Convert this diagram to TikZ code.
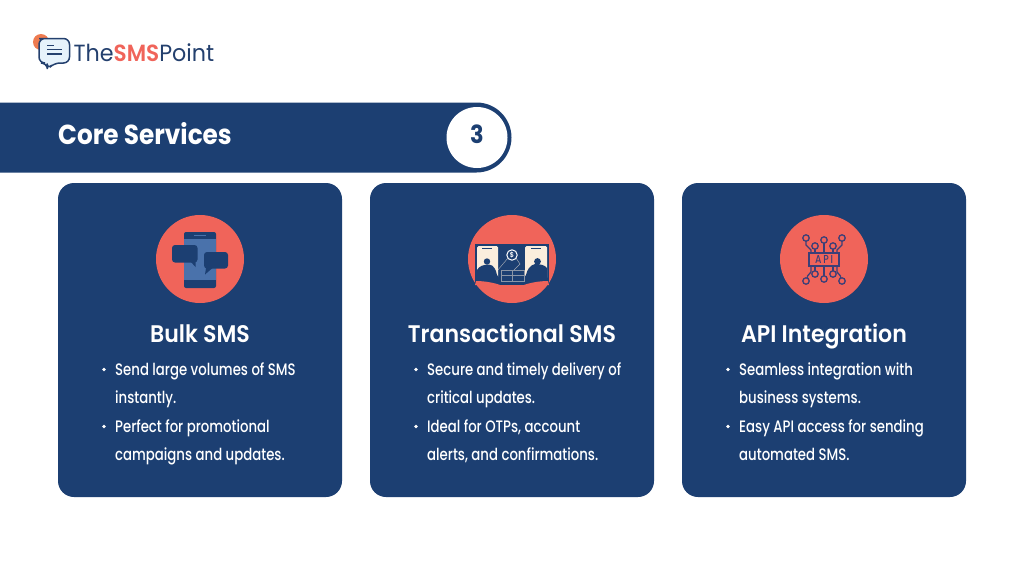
\documentclass[tikz,border=0pt]{standalone}
\usepackage{fontspec}
\setmainfont{Poppins}[FakeStretch=0.86]
\newfontfamily\headf{Poppins Bold}[FakeStretch=0.9]
\newfontfamily\titlef{Poppins SemiBold}[FakeStretch=0.92]
\newfontfamily\bodyf{Poppins Medium}[FakeStretch=0.8]
\newfontfamily\logof{Poppins}[FakeStretch=0.95]
\definecolor{navy}{HTML}{1C3F72}
\definecolor{coral}{HTML}{F0645A}
\definecolor{screenblue}{HTML}{4A72AB}
\definecolor{cream}{HTML}{FBEEDD}
\definecolor{apiink}{HTML}{3B3F78}
\definecolor{logoink}{HTML}{24406E}
\definecolor{logoorange}{HTML}{EE7B50}
\definecolor{bubblefill}{HTML}{E6F2FB}
\tikzset{
  card/.style={fill=navy,rounded corners=16pt},
  title/.style={text=white,font=\titlef\fontsize{24}{26}\selectfont,anchor=base,inner sep=0pt},
  item/.style={text=white,font=\bodyf\fontsize{16.6}{18}\selectfont,anchor=base west,inner sep=0pt},
  dot/.style={circle,fill=white,minimum size=3.6pt,inner sep=0pt},
  apic/.style={draw=apiink,line width=1.3pt},
  apil/.style={draw=apiink,line width=1.3pt,fill=none},
}
\begin{document}
\begin{tikzpicture}[x=1pt,y=-1pt]
\useasboundingbox (0,0) rectangle (1024,576);
\fill[white] (0,0) rectangle (1024,576);
% logo
\fill[logoorange] (41,42) circle (8);
\draw[logoink,line width=1.5pt,fill=bubblefill,rounded corners=6pt]
  (45,38.5) -- (69.5,38.5) -- (69.5,63) -- (54,63) -- (47.5,69.5) -- (47,63) -- (39,63) -- (39,38.5) -- cycle;
\draw[logoink,line width=1.2pt] (47,45.5) -- (54,45.5) (47,49.5) -- (62,49.5) (47,54) -- (62,54);
\node[anchor=base west,inner sep=0pt,font=\logof\fontsize{23.4}{24}\selectfont] (logo) at (73.5,61.5)
  {\textcolor{logoink}{The}\textcolor{coral}{\titlef SMS}\textcolor{logoink}{Point}};
% header band
\fill[navy] (0,102.5) -- (476.5,102.5) arc[start angle=-90,end angle=90,radius=35] -- (0,172.5) -- cycle;
\node[circle,fill=white,minimum size=61pt,inner sep=0pt] (badge) at (477,137.5) {};
\node[anchor=base,inner sep=0pt,text=navy,font=\headf\fontsize{25}{26}\selectfont] (num) at (477,143.5) {3};
\node[anchor=base west,inner sep=0pt,text=white,font=\headf\fontsize{27.5}{29}\selectfont] (head) at (58,144) {Core Services};
% cards
\fill[card] (58,183) rectangle (342,497);
\fill[card] (370,183) rectangle (654,497);
\fill[card] (682,183) rectangle (966,497);
% icon circles
\fill[coral] (200,259) circle (44);
\fill[coral] (512,259) circle (44);
\fill[coral] (824,259) circle (44);
% phone icon
\fill[navy,rounded corners=2pt] (184,232) rectangle (216,288);
\fill[screenblue] (184,238.5) rectangle (216,280);
\draw[screenblue,line width=1.2pt] (194,235.5) -- (206,235.5);
\fill[navy,rounded corners=3pt] (172,245) rectangle (197.5,262.5);
\fill[navy] (191,262) -- (195.5,267) -- (195.5,262) -- cycle;
\fill[navy,rounded corners=3pt] (204,252) rectangle (228,268.5);
\fill[navy] (206,268) -- (205,274.5) -- (212.5,268) -- cycle;
% transaction icon
\fill[navy] (475,244) -- (549,244) -- (549,285) -- (475,285) -- cycle;
\fill[cream,rounded corners=1.5pt] (477,246) rectangle (498,279);
\fill[cream,rounded corners=1.5pt] (525,246) rectangle (547,279);
\draw[navy,line width=1pt] (482,248.5) -- (492,248.5) (531,248.5) -- (541,248.5);
\fill[navy] (487,261.5) circle (3.2);
\fill[navy] (477,282) -- (477,270) .. controls (479,266) and (484,264.5) .. (489,264.5) .. controls (494,265) and (496,270) .. (497,275) -- (503,283) -- cycle;
\fill[navy] (537.5,261.5) circle (3.4);
\fill[navy] (547,282) -- (547,268) .. controls (545,265) and (540,264) .. (535,264) .. controls (530,265) and (527,270) .. (526,275) -- (520,283) -- cycle;
\fill[coral] (475,285) -- (476,281) .. controls (485,281) and (495,283) .. (500,285) -- cycle;
\fill[coral] (549,285) -- (548,281) .. controls (539,281) and (529,283) .. (524,285) -- cycle;
\draw[cream,opacity=.5,line width=.45pt] (501,270) rectangle (524,281) (501,275) -- (524,275) (512,270) -- (512,281);
\draw[cream,opacity=.6,line width=.45pt] (508,258) -- (497,271) (516,258) -- (520,264) -- (514,270);
\draw[white,line width=1pt] (512,255) circle (5.2);
\node[inner sep=0pt,text=white,font=\titlef\fontsize{7}{7}\selectfont] (coin) at (512,255) {\$};
% api icon
\draw[apil] (806,241) -- (806,245) -- (811,250) -- (811,253);
\draw[apil] (815,249.2) -- (815,253) (824,243.2) -- (824,253) (833,249.2) -- (833,253);
\draw[apil] (842,241.2) -- (842,245) -- (837,250) -- (837,253);
\draw[apil] (815,266) -- (815,270.8) (824,266) -- (824,275.8) (833,266) -- (833,270.8);
\draw[apil] (811,266) -- (811,272) -- (807.5,276) -- (807.5,278.2);
\draw[apil] (837,266) -- (837,272) -- (840.5,276) -- (840.5,278.2);
\foreach \p in {(806,238),(815,246),(824,240),(833,246),(842,238),(806,281),(815,274),(824,279),(833,274),(842,281)}
  \draw[apic,fill=coral] \p circle (3.2);
\draw[apic] (809,253) rectangle (839,266);
\node[inner sep=0pt,text=apiink,font=\bodyf\fontsize{11.5}{12}\selectfont] (apitxt) at (824,259.8) {A\kern1.8pt P\kern1.8pt I};
% titles
\node[title] (t1) at (200,342.5) {Bulk SMS};
\node[title] (t2) at (512,342.5) {Transactional SMS};
\node[title] (t3) at (824,342.5) {API Integration};
% items
\node[dot] (d11) at (104,369.5) {};
\node[item] (a11) at (115,375) {Send large volumes of SMS};
\node[item] (a12) at (115,403) {instantly.};
\node[dot] (d12) at (104,426.5) {};
\node[item] (a13) at (115,432) {Perfect for promotional};
\node[item] (a14) at (115,460) {campaigns and updates.};
\node[dot] (d21) at (416,369.5) {};
\node[item] (b11) at (427,375) {Secure and timely delivery of};
\node[item] (b12) at (427,403) {critical updates.};
\node[dot] (d22) at (416,426.5) {};
\node[item] (b13) at (427,432) {Ideal for OTPs, account};
\node[item] (b14) at (427,460) {alerts, and confirmations.};
\node[dot] (d31) at (728,369.5) {};
\node[item] (c11) at (739,375) {Seamless integration with};
\node[item] (c12) at (739,403) {business systems.};
\node[dot] (d32) at (728,426.5) {};
\node[item] (c13) at (739,432) {Easy API access for sending};
\node[item] (c14) at (739,460) {automated SMS.};
\end{tikzpicture}
\end{document}
